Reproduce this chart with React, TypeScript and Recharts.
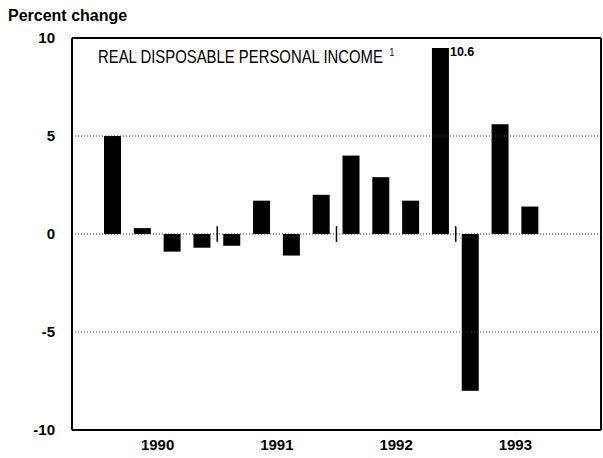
import { BarChart, Bar, XAxis, YAxis, ReferenceLine, CartesianGrid } from "recharts";

// quarterly percent change, 1990Q1 - 1993Q3 (1993Q4 left empty)
const quarters = [
  "1990Q1", "1990Q2", "1990Q3", "1990Q4",
  "1991Q1", "1991Q2", "1991Q3", "1991Q4",
  "1992Q1", "1992Q2", "1992Q3", "1992Q4",
  "1993Q1", "1993Q2", "1993Q3", "1993Q4",
];
const income = [5.0, 0.3, -0.9, -0.7, -0.6, 1.7, -1.1, 2.0, 4.0, 2.9, 1.7, 10.6, -8.0, 5.6, 1.4, null];
const yTicks = [-10, -5, 0, 5, 10];
const gridValues = [5, 0, -5];
const yearEnds = ["1990Q4", "1991Q4", "1992Q4"];

const data = quarters.map((q, i) => ({ q, year: q.slice(0, 4), v: income[i] }));

const FONT = '"Liberation Sans", Arial, Helvetica, sans-serif';
const AXIS_MAX = 10;

// bars that run past the top of the scale are cut short and get their value printed
const CappedBar = (props: any) => {
  const { x, y, width, height, background, payload } = props;
  if (payload == null || payload.v == null) return null;
  let top = Math.min(y, y + height);
  const bottom = Math.max(y, y + height);
  const over = payload.v > AXIS_MAX;
  if (over && background) top = background.y + 10;
  return (
    <g>
      <rect x={x} y={top} width={width} height={bottom - top} fill="#000" />
      {over && (
        <text x={x + width + 1} y={top + 8} fontSize={12.5} fontWeight="bold" fontFamily={FONT} fill="#000">
          {payload.v}
        </text>
      )}
    </g>
  );
};

// frame round the plot area, taken from the chart's own offset
const frameX = ({ offset }: any) => [offset.left, offset.left + offset.width];
const frameY = ({ offset }: any) => [offset.top, offset.top + offset.height];

export default function App() {
  return (
    <div style={{ position: "absolute", left: 0, top: 0, width: 603, height: 458, background: "#fff", fontFamily: FONT }}>
      <BarChart width={603} height={458} data={data} margin={{ top: 38, right: 2, bottom: 0, left: 0 }}>
        <XAxis xAxisId="q" dataKey="q" hide height={0} padding={{ left: 26, right: 26 }} />
        <XAxis
          xAxisId="year"
          dataKey="year"
          allowDuplicatedCategory={false}
          padding={{ left: 26, right: 26 }}
          height={28}
          tickLine={false}
          tickMargin={3}
          axisLine={{ stroke: "#000", strokeWidth: 2 }}
          tick={{ fill: "#000", fontSize: 15, fontWeight: "bold", fontFamily: FONT }}
        />
        <YAxis
          yAxisId="v"
          type="number"
          domain={[-10, 10]}
          allowDataOverflow
          ticks={yTicks}
          width={72}
          tickLine={false}
          tickMargin={11}
          axisLine={{ stroke: "#000", strokeWidth: 2 }}
          tick={{ fill: "#000", fontSize: 15, fontWeight: "bold", fontFamily: FONT }}
        />
        <CartesianGrid
          xAxisId="q"
          yAxisId="v"
          stroke="#000"
          strokeWidth={2}
          verticalCoordinatesGenerator={frameX}
          horizontalCoordinatesGenerator={frameY}
        />
        {gridValues.map((g) => (
          <ReferenceLine key={g} xAxisId="q" yAxisId="v" y={g} stroke="#333" strokeWidth={1} strokeDasharray="1 2" />
        ))}
        {yearEnds.map((q) => (
          <ReferenceLine
            key={q}
            xAxisId="q"
            yAxisId="v"
            position="end"
            segment={[{ x: q, y: -0.4 }, { x: q, y: 0.4 }]}
            stroke="#000"
            strokeWidth={1.5}
          />
        ))}
        <Bar xAxisId="q" yAxisId="v" dataKey="v" barSize={17} fill="#000" shape={CappedBar} isAnimationActive={false} />
      </BarChart>
      <div style={{ position: "absolute", left: 8, top: 7, fontSize: 16, fontWeight: "bold", color: "#000" }}>
        Percent change
      </div>
      <div
        style={{
          position: "absolute",
          left: 98,
          top: 47,
          fontSize: 17.5,
          color: "#000",
          whiteSpace: "nowrap",
          transform: "scaleX(0.85)",
          transformOrigin: "left top",
        }}
      >
        REAL DISPOSABLE PERSONAL INCOME <span style={{ fontSize: 10, verticalAlign: "7px", marginLeft: 3 }}>1</span>
      </div>
    </div>
  );
}
